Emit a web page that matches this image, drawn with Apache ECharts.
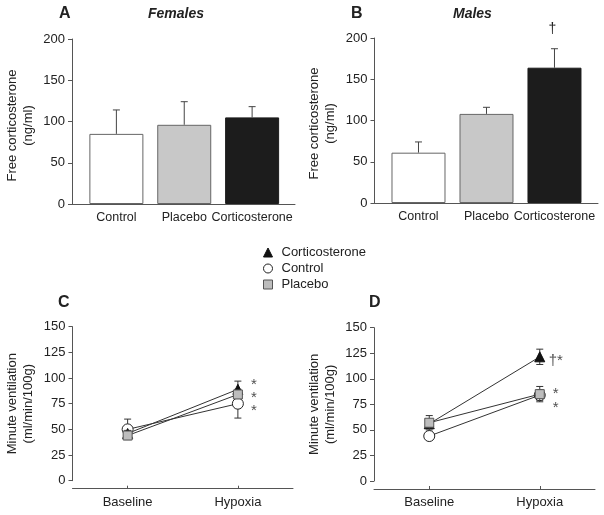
<!DOCTYPE html>
<html><head><meta charset="utf-8">
<script src="https://cdn.jsdelivr.net/npm/echarts@6/dist/echarts.min.js"></script>
<style>html,body{margin:0;padding:0;background:#fff}#c{width:604px;height:515px}</style>
</head><body><div id="c"></div>
<script>
// ---- data ----
const groups = ['Control', 'Placebo', 'Corticosterone'];
const femaleMean = [85, 96, 105];
const femaleSem = [29, 28, 13];
const maleMean = [61, 108, 164];
const maleSem = [13, 8, 23];
const maleMarks = ['', '', '†'];

const phases = ['Baseline', 'Hypoxia'];
const fCort = [46, 89],  fCortSem = [3, 8];
const fCtrl = [50, 75],  fCtrlSem = [10, 14];
const fPlac = [44, 84],  fPlacSem = [2, 4];
const mCort = [56, 121.5], mCortSem = [4, 7.5];
const mCtrl = [44, 84],  mCtrlSem = [2, 5];
const mPlac = [57, 85],  mPlacSem = [7, 7.5];
const fMarks = [['Hypoxia', 97, '*'], ['Hypoxia', 84.5, '*'], ['Hypoxia', 71.5, '*']];
const mMarks = [['Hypoxia', 121.5, '†*'], ['Hypoxia', 89, '*'], ['Hypoxia', 75.5, '*']];

// ---- styles ----
const FONT = '"Liberation Sans", Arial, sans-serif';
const TXT = '#222';
const AX = '#555';
const barColors = [
  { color: '#ffffff', borderColor: '#666', borderWidth: 1 },
  { color: '#c8c8c8', borderColor: '#666', borderWidth: 1 },
  { color: '#1c1c1c', borderColor: '#1c1c1c', borderWidth: 1 }
];
const sym = {
  Corticosterone: { symbol: 'triangle', symbolSize: 10, itemStyle: { color: '#111', borderColor: '#111', borderWidth: 1 } },
  Control: { symbol: 'circle', symbolSize: 11, itemStyle: { color: '#fff', borderColor: '#222', borderWidth: 1 } },
  Placebo: { symbol: 'rect', symbolSize: 9, itemStyle: { color: '#bdbdbd', borderColor: '#555', borderWidth: 1 } }
};

const chart = echarts.init(document.getElementById('c'), null, { renderer: 'canvas' });

const grids = [
  { left: 72, top: 39, width: 223, height: 165 },
  { left: 374.5, top: 38, width: 223.5, height: 165 },
  { left: 72.5, top: 326.7, width: 220.5, height: 154 },
  { left: 374, top: 327.7, width: 221, height: 153.3 }
];

function barX(gi, min, max) {
  return {
    type: 'value', gridIndex: gi, min: min, max: max,
    axisLine: { show: true, onZero: false, lineStyle: { color: AX, width: 1 } },
    axisTick: { show: false }, splitLine: { show: false },
    axisLabel: { customValues: [0, 1, 2], formatter: v => groups[Math.round(v)], color: TXT, fontSize: 12.5, fontFamily: FONT, margin: 7 }
  };
}
function lineX(gi) {
  return {
    type: 'category', gridIndex: gi, data: phases, boundaryGap: true, offset: 8,
    axisLine: { show: true, onZero: false, lineStyle: { color: AX, width: 1 } },
    axisTick: { show: true, alignWithLabel: true, inside: true, length: 3, lineStyle: { color: AX } },
    axisLabel: { color: TXT, fontSize: 13, fontFamily: FONT, margin: 7 }
  };
}
function yAx(gi, max, interval, name, shift) {
  return {
    type: 'value', gridIndex: gi, min: 0, max: max, interval: interval,
    name: name, nameLocation: 'middle', nameGap: 36, nameRotate: 90,
    nameTextStyle: { color: TXT, fontSize: 13, fontFamily: FONT, lineHeight: 16, padding: [0, shift, 0, 0] },
    axisLine: { show: true, onZero: false, lineStyle: { color: AX, width: 1 } },
    axisTick: { show: true, length: 4, lineStyle: { color: AX } },
    splitLine: { show: false },
    axisLabel: { color: TXT, fontSize: 13, fontFamily: FONT, margin: 7 }
  };
}

function upperErr(means, sems, marks) {
  return function (params, api) {
    const x = api.value(0), m = api.value(1), e = api.value(2);
    const p0 = api.coord([x, m]), p1 = api.coord([x, m + e]);
    const ls = { stroke: '#444', lineWidth: 1 };
    const ch = [
      { type: 'line', shape: { x1: p0[0], y1: p0[1], x2: p1[0], y2: p1[1] }, style: ls },
      { type: 'line', shape: { x1: p1[0] - 3.5, y1: p1[1], x2: p1[0] + 3.5, y2: p1[1] }, style: ls }
    ];
    const t = marks ? marks[params.dataIndex] : '';
    if (t) ch.push({ type: 'text', x: p1[0] - 2, y: p1[1] - 20, style: { text: t, fill: TXT, font: '14px ' + FONT, align: 'center', verticalAlign: 'middle' } });
    return { type: 'group', children: ch };
  };
}
function bothErr(params, api) {
  const x = api.value(0), m = api.value(1), e = api.value(2);
  const pa = api.coord([x, m - e]), pb = api.coord([x, m + e]);
  const ls = { stroke: '#333', lineWidth: 1 };
  return { type: 'group', children: [
    { type: 'line', shape: { x1: pa[0], y1: pa[1], x2: pb[0], y2: pb[1] }, style: ls },
    { type: 'line', shape: { x1: pa[0] - 3.5, y1: pa[1], x2: pa[0] + 3.5, y2: pa[1] }, style: ls },
    { type: 'line', shape: { x1: pb[0] - 3.5, y1: pb[1], x2: pb[0] + 3.5, y2: pb[1] }, style: ls }
  ]};
}

const series = [];
// bars
[[0, femaleMean, femaleSem, null], [1, maleMean, maleSem, maleMarks]].forEach(([gi, means, sems, marks]) => {
  series.push({
    type: 'bar', xAxisIndex: gi, yAxisIndex: gi, barWidth: 54, z: 2,
    data: means.map((v, i) => ({ value: [i, v], itemStyle: barColors[i] })),
    silent: true
  });
  series.push({
    type: 'custom', xAxisIndex: gi, yAxisIndex: gi, z: 1, clip: false,
    renderItem: upperErr(means, sems, marks),
    data: means.map((v, i) => [i, v, sems[i]]),
    silent: true
  });
});

// lines
const lineSets = [
  [2, { Control: [fCtrl, fCtrlSem], Corticosterone: [fCort, fCortSem], Placebo: [fPlac, fPlacSem] }, fMarks],
  [3, { Control: [mCtrl, mCtrlSem], Corticosterone: [mCort, mCortSem], Placebo: [mPlac, mPlacSem] }, mMarks]
];
lineSets.forEach(([gi, sets, marks]) => {
  ['Control', 'Corticosterone', 'Placebo'].forEach((name, k) => {
    const [vals, sems] = sets[name];
    series.push({
      type: 'custom', xAxisIndex: gi, yAxisIndex: gi, z: 2 + k * 2, renderItem: bothErr,
      data: vals.map((v, i) => [i, v, sems[i]]), silent: true
    });
    series.push(Object.assign({
      type: 'line', name: name, xAxisIndex: gi, yAxisIndex: gi, z: 3 + k * 2,
      data: vals, lineStyle: { color: '#333', width: 1 }, showSymbol: true, silent: true,
      emphasis: { disabled: true }
    }, sym[name]));
  });
  series.push({
    type: 'scatter', xAxisIndex: gi, yAxisIndex: gi, symbolSize: 0, z: 10, silent: true,
    data: marks,
    label: { show: true, position: 'inside', offset: [16, 4], formatter: p => p.data[2], color: TXT, fontSize: 15, fontFamily: FONT }
  });
});

const tBold = { fontSize: 16, fontWeight: 'bold', color: TXT, fontFamily: FONT };
const tIt = { fontSize: 14, fontWeight: 'bold', fontStyle: 'italic', color: TXT, fontFamily: FONT };
chart.setOption({
  animation: false,
  backgroundColor: '#fff',
  textStyle: { fontFamily: FONT },
  title: [
    { text: 'A', left: 59, top: 6, padding: 0, textStyle: tBold },
    { text: 'Females', left: 148, top: 7, padding: 0, textStyle: tIt },
    { text: 'B', left: 351, top: 6, padding: 0, textStyle: tBold },
    { text: 'Males', left: 453, top: 7, padding: 0, textStyle: tIt },
    { text: 'C', left: 58, top: 295, padding: 0, textStyle: tBold },
    { text: 'D', left: 369, top: 295, padding: 0, textStyle: tBold }
  ],
  legend: {
    orient: 'vertical', left: 258, top: 241, itemWidth: 9, itemHeight: 9, itemGap: 3,
    data: [{ name: 'Corticosterone', icon: 'triangle' }, { name: 'Control', icon: 'circle' }, { name: 'Placebo', icon: 'rect' }],
    itemStyle: { borderWidth: 1 },
    textStyle: { color: TXT, fontSize: 13, fontFamily: FONT, padding: [0, 0, 0, 4] },
    selectedMode: false
  },
  grid: grids,
  xAxis: [barX(0, -0.654, 2.632), barX(1, -0.647, 2.64), lineX(2), lineX(3)],
  yAxis: [
    yAx(0, 200, 50, 'Free corticosterone\n(ng/ml)', 8),
    yAx(1, 200, 50, 'Free corticosterone\n(ng/ml)', 6),
    yAx(2, 150, 25, 'Minute ventilation\n(ml/min/100g)', 0),
    yAx(3, 150, 25, 'Minute ventilation\n(ml/min/100g)', 0)
  ],
  series: series
});
</script></body></html>
